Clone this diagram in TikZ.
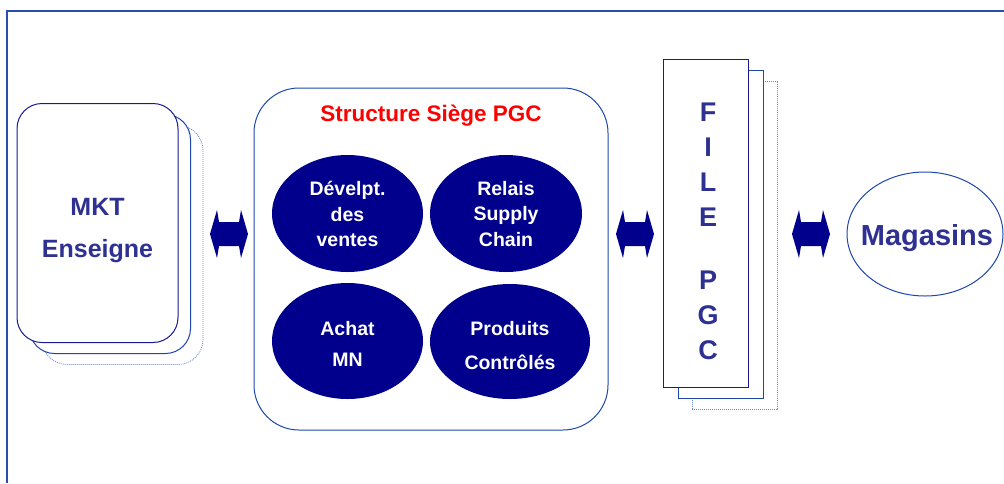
\documentclass[tikz,border=0pt]{standalone}
\usepackage{fontspec}
\setmainfont{Liberation Sans}
\usetikzlibrary{shapes.geometric,calc}
\definecolor{txtblue}{RGB}{46,49,146}
\definecolor{navy}{RGB}{0,0,140}
\definecolor{edgedark}{RGB}{25,25,150}
\definecolor{edgemid}{RGB}{30,70,175}
\definecolor{edgelight}{RGB}{110,140,205}
\definecolor{framecol}{RGB}{40,80,170}
\tikzset{
  card/.style={rectangle, rounded corners=25pt, minimum width=161pt, minimum height=239pt, inner sep=0pt, line width=1pt},
  sheet/.style={rectangle, minimum width=85pt, minimum height=328pt, inner sep=0pt, line width=1pt},
  bubble/.style={ellipse, fill=navy, inner sep=0pt},
  bubbletxt/.style={text=white, align=center, inner sep=0pt, font=\bfseries\fontsize{19.5}{25.5}\selectfont},
  bluetxt/.style={text=txtblue, inner sep=0pt, font=\bfseries},
  dotline/.style={dash pattern=on 1pt off 1pt, line width=0.8pt},
}
\newcommand\blockdbl[1]{\fill[navy] ($(#1)+(-19,0)$) -- ++(7,-24) -- ++(2,12) -- ++(20,0) -- ++(2,-12) -- ++(7,24) -- ++(-7,24) -- ++(-2,-12) -- ++(-20,0) -- ++(-2,12) -- cycle;}
\begin{document}
\begin{tikzpicture}[x=1pt,y=-1pt]
\useasboundingbox (0,0) rectangle (1004,483);
% frame
\draw[framecol, line width=1.2pt] (7,483) -- (7,11) -- (1004,11);

% MKT stack
\node[card, draw=edgelight, dotline] (mkt3) at (122.5,245) {};
\node[card, draw=edgemid, fill=white] (mkt2) at (110,234) {};
\node[card, draw=edgedark, fill=white] (mkt1) at (97.5,223) {};
\node[bluetxt, align=center, font=\bfseries\fontsize{25}{42}\selectfont] (mkttxt) at (97.5,231) {MKT\\Enseigne};

% Structure
\node[rectangle, rounded corners=45pt, draw=edgemid, line width=1pt, minimum width=354pt, minimum height=342pt, inner sep=0pt] (struct) at (431,259) {};
\node[text=red, inner sep=0pt, anchor=base, font=\bfseries\fontsize{22.5}{27}\selectfont] (title) at (431,121) {Structure Siège PGC};

\node[bubble, minimum width=151pt, minimum height=117pt] (dev) at (347.5,213.5) {};
\node[bubble, minimum width=152pt, minimum height=117pt] (relais) at (506,213.5) {};
\node[bubble, minimum width=151pt, minimum height=116pt] (achat) at (347.5,341) {};
\node[bubble, minimum width=160pt, minimum height=115pt] (prod) at (510,341.5) {};
\node[bubbletxt] (devtxt) at (347.5,214) {Dévelpt.\\des\\ventes};
\node[bubbletxt] (relaistxt) at (506,214) {Relais\\Supply\\Chain};
\node[bubbletxt, font=\bfseries\fontsize{19.5}{31}\selectfont] (achattxt) at (347.5,344) {Achat\\MN};
\node[bubbletxt, font=\bfseries\fontsize{19.5}{34}\selectfont] (prodtxt) at (510,345.5) {Produits\\Contrôlés};

% FILE PGC stack
\node[sheet, draw=edgelight, dotline] (file3) at (734.5,245.5) {};
\node[sheet, draw=edgemid, fill=white] (file2) at (720.5,234.5) {};
\node[sheet, draw=edgedark, fill=white] (file1) at (705.5,223) {};
\node[bluetxt, align=center, font=\bfseries\fontsize{27}{35}\selectfont] (filetxt) at (708,231) {F\\I\\L\\E\\[28pt]P\\G\\C};

% Magasins
\node[ellipse, draw=edgemid, line width=1pt, minimum width=156pt, minimum height=124pt, inner sep=0pt] (mag) at (925,234) {};
\node[bluetxt, anchor=base, font=\bfseries\fontsize{29}{34}\selectfont] (magtxt) at (927,245) {Magasins};

% double block arrows
\coordinate (a1) at (229,234);
\coordinate (a2) at (635,234);
\coordinate (a3) at (811,234);
\blockdbl{a1}
\blockdbl{a2}
\blockdbl{a3}
\end{tikzpicture}
\end{document}
